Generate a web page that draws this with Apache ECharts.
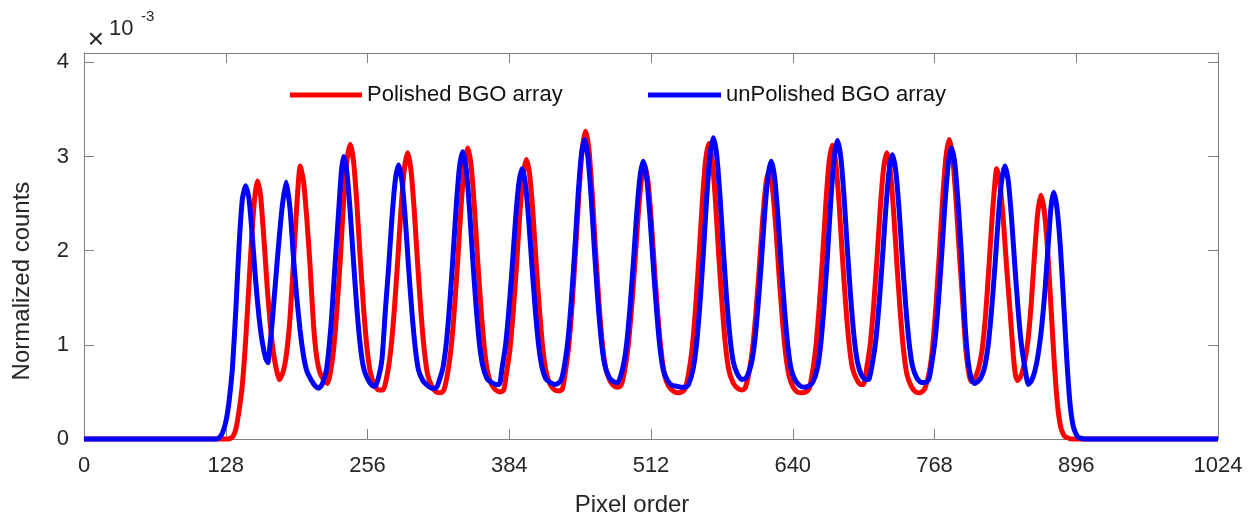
<!DOCTYPE html>
<html>
<head>
<meta charset="utf-8">
<script src="https://cdn.jsdelivr.net/npm/echarts@6/dist/echarts.min.js"></script>
<style>
  html, body { margin: 0; padding: 0; background: #fff; }
  #chart { width: 1252px; height: 521px; }
</style>
</head>
<body>
<div id="chart"></div>
<script>
// Tick labels
const xTicks = [0, 128, 256, 384, 512, 640, 768, 896, 1024];
const yTicks = [0, 1, 2, 3, 4];

// Legend / series names
const seriesNames = ['Polished BGO array', 'unPolished BGO array'];

// Polished BGO array (red): pixel order and normalized counts (x 10^-3)
const pixelsPolished = [0, 110, 130, 134, 137, 140, 143, 146, 149, 152, 154.5, 156.7, 159.5, 162.5, 165.5, 168.5, 171.5, 174.5, 176.5,
  180, 183, 186, 189, 192, 195.2, 198.2, 201.2, 204.2, 207.2, 210.2, 213.2, 217, 220,
  222.4, 225.4, 228.4, 231.4, 234.4, 237.4, 240.4, 243.4, 246.4, 249.4, 252.4, 255.4, 258.4, 262, 266, 270,
  274.2, 277.2, 280.2, 283.2, 286.2, 289.2, 292.2, 295.2, 298.2, 301.2, 304.2, 307.2, 310.2, 314, 318, 322, 325,
  328.5, 331.5, 334.5, 337.5, 340.5, 343.5, 346.5, 349.5, 352.5, 355.5, 358.5, 361.5, 364.5, 368, 372, 376, 379,
  381.5, 384.5, 387.5, 390.5, 393.5, 396.5, 399.5, 402.5, 405.5, 408.5, 411.5, 414.5, 417.5, 421, 425, 429, 432,
  434.9, 437.9, 440.9, 443.9, 446.9, 449.9, 452.9, 455.9, 458.9, 461.9, 464.9, 467.9, 470.9, 474.5, 478, 482, 485,
  488.2, 491.2, 494.2, 497.2, 500.2, 503.2, 506.2, 509.2, 512.2, 515.2, 518.2, 521.2, 524.2, 528, 532, 536, 540, 543,
  546.3, 549.3, 552.3, 555.3, 558.3, 561.3, 564.3, 567.3, 570.3, 573.3, 576.3, 579.3, 582.3, 586, 590, 594, 597,
  600.5, 603.5, 606.5, 609.5, 612.5, 615.5, 618.5, 621.5, 624.5, 627.5, 630.5, 633.5, 636.5, 640, 644, 648, 652, 655,
  657.8, 660.8, 663.8, 666.8, 669.8, 672.8, 675.8, 678.8, 681.8, 684.8, 687.8, 690.8, 693.8, 697, 701, 704,
  707, 710, 713, 716, 719, 722, 725, 728, 731, 734, 737, 740, 743, 747, 751, 755, 759,
  763.3, 766.3, 769.3, 772.3, 775.3, 778.3, 781.3, 784.3, 787.3, 790.3, 793.3, 796.3, 799.3, 801.5,
  805, 808, 811, 814, 817, 820, 822, 824.1, 827.1, 830.1, 833.1, 836.1, 839.1, 841.1, 843,
  846.1, 849.1, 852.1, 855.1, 858.1, 861.1, 864.1, 867.1, 870.1, 873.1, 876.1, 879.1, 882.1, 885.5, 892, 1024];
const countsPolished = [0, 0, 0, 0.02, 0.10, 0.30, 0.58, 1.05, 1.65, 2.25, 2.60, 2.74, 2.58, 2.12, 1.60, 1.18, 0.88, 0.70, 0.63,
  0.72, 0.92, 1.28, 1.85, 2.45, 2.90, 2.74, 2.34, 1.83, 1.22, 0.86, 0.70, 0.62, 0.59,
  0.70, 0.95, 1.38, 1.90, 2.52, 2.95, 3.13, 2.95, 2.50, 1.92, 1.40, 0.98, 0.72, 0.58, 0.52, 0.52,
  0.71, 0.97, 1.37, 1.88, 2.43, 2.86, 3.04, 2.86, 2.43, 1.87, 1.36, 0.95, 0.69, 0.56, 0.50, 0.49, 0.52,
  0.71, 0.97, 1.38, 1.90, 2.47, 2.91, 3.09, 2.91, 2.47, 1.90, 1.38, 0.97, 0.71, 0.58, 0.52, 0.50, 0.52,
  0.70, 0.94, 1.34, 1.83, 2.38, 2.80, 2.97, 2.80, 2.38, 1.83, 1.34, 0.94, 0.70, 0.58, 0.52, 0.51, 0.53,
  0.73, 1.01, 1.45, 2.00, 2.61, 3.08, 3.27, 3.08, 2.61, 2.01, 1.47, 1.03, 0.76, 0.63, 0.57, 0.55, 0.57,
  0.73, 0.97, 1.35, 1.82, 2.34, 2.74, 2.91, 2.74, 2.33, 1.80, 1.31, 0.93, 0.68, 0.56, 0.51, 0.49, 0.50, 0.54,
  0.72, 0.98, 1.40, 1.93, 2.51, 2.96, 3.14, 2.96, 2.51, 1.93, 1.41, 0.99, 0.73, 0.60, 0.54, 0.52, 0.54,
  0.71, 0.94, 1.31, 1.77, 2.28, 2.68, 2.84, 2.68, 2.28, 1.76, 1.29, 0.91, 0.68, 0.56, 0.50, 0.49, 0.50, 0.54,
  0.71, 0.97, 1.39, 1.91, 2.49, 2.94, 3.12, 2.94, 2.51, 1.94, 1.43, 1.02, 0.76, 0.65, 0.58, 0.58,
  0.77, 1.01, 1.41, 1.90, 2.45, 2.87, 3.04, 2.86, 2.43, 1.87, 1.36, 0.95, 0.69, 0.56, 0.50, 0.49, 0.53,
  0.71, 0.98, 1.41, 1.95, 2.54, 2.99, 3.18, 3.00, 2.56, 2.00, 1.48, 0.95, 0.68, 0.61,
  0.66, 0.76, 0.95, 1.30, 1.80, 2.35, 2.65, 2.87, 2.71, 2.33, 1.83, 1.38, 0.90, 0.68, 0.62,
  0.67, 0.80, 1.02, 1.40, 1.92, 2.39, 2.59, 2.42, 2.02, 1.42, 0.82, 0.36, 0.12, 0.03, 0, 0];

// unPolished BGO array (blue): pixel order and normalized counts (x 10^-3)
const pixelsUnpolished = [0, 100, 120, 124, 128, 131, 134, 137, 140, 143, 146, 149, 152, 155, 158, 161, 164, 166,
  168, 170, 173, 176, 179, 182.5, 186, 189, 192, 195, 198, 201, 205, 209, 212, 215,
  219, 223, 226, 230, 232.5, 234.5, 237.4, 240.4, 243.4, 246.4, 249.4, 252.4, 256, 260, 263,
  266.1, 269.1, 272.1, 275.1, 278.1, 281.1, 284.1, 287.1, 290.1, 293.1, 296.1, 299.1, 302.1, 306, 310, 314, 318,
  321, 324, 327, 330, 333, 336, 339, 342, 345, 348, 351, 354, 357, 360, 364, 368, 372, 375,
  377.6, 380.6, 383.6, 386.6, 389.6, 392.6, 395.6, 398.6, 401.6, 404.6, 407.6, 410.6, 413.6, 417, 421, 425, 428, 431,
  434, 437, 440, 443, 446, 449, 452, 455, 458, 461, 464, 467, 470, 474, 478, 482,
  487, 490, 493, 496, 499, 502, 505, 508, 511, 514, 517, 520, 523, 527, 531, 535, 539, 543, 546,
  550.3, 553.3, 556.3, 559.3, 562.3, 565.3, 568.3, 571.3, 574.3, 577.3, 580.3, 583.3, 586.3, 590, 594, 598,
  602.6, 605.6, 608.6, 611.6, 614.6, 617.6, 620.6, 623.6, 626.6, 629.6, 632.6, 635.6, 638.6, 642, 646, 650, 654, 658,
  662.4, 665.4, 668.4, 671.4, 674.4, 677.4, 680.4, 683.4, 686.4, 689.4, 692.4, 695.4, 698.4, 702, 706, 709,
  712, 715, 718, 721, 724, 727, 730, 733, 736, 739, 742, 745, 748, 752, 756, 760, 763,
  765.4, 768.4, 771.4, 774.4, 777.4, 780.4, 783.4, 786.4, 789.4, 792.4, 795.4, 798.4, 801.4, 804, 808, 811,
  813.6, 816.6, 819.6, 822.6, 825.6, 828.6, 831.6, 834.6, 837.6, 840.6, 843.6, 846.6, 849.6, 852.7,
  855.6, 858.6, 861.6, 864.6, 867.6, 870.6, 873.1, 875.6, 878.6, 881.6, 884.6, 887.6, 890.6, 893.6, 897.6, 905, 1024];
const countsUnpolished = [0, 0, 0, 0.04, 0.18, 0.40, 0.75, 1.35, 2.05, 2.55, 2.69, 2.55, 2.15, 1.68, 1.30, 1.03, 0.86, 0.81,
  1.00, 1.25, 1.68, 2.10, 2.47, 2.73, 2.45, 1.95, 1.52, 1.17, 0.90, 0.73, 0.63, 0.56, 0.54, 0.58,
  0.74, 1.20, 1.73, 2.43, 2.85, 3.00, 2.83, 2.41, 1.88, 1.39, 1.00, 0.76, 0.64, 0.57, 0.56,
  0.66, 0.85, 1.36, 1.83, 2.35, 2.75, 2.91, 2.74, 2.34, 1.82, 1.35, 0.97, 0.73, 0.62, 0.57, 0.54, 0.54,
  0.63, 0.75, 1.00, 1.40, 1.90, 2.45, 2.88, 3.05, 2.88, 2.46, 1.91, 1.42, 1.02, 0.78, 0.64, 0.60, 0.58, 0.58,
  0.76, 0.99, 1.36, 1.82, 2.32, 2.71, 2.87, 2.71, 2.32, 1.82, 1.36, 0.99, 0.76, 0.64, 0.60, 0.58, 0.59, 0.63,
  0.79, 1.05, 1.46, 1.98, 2.56, 3.00, 3.18, 3.00, 2.56, 1.99, 1.47, 1.06, 0.80, 0.66, 0.61, 0.60,
  0.78, 1.01, 1.39, 1.86, 2.38, 2.78, 2.95, 2.78, 2.37, 1.85, 1.37, 0.98, 0.74, 0.62, 0.57, 0.56, 0.55, 0.55, 0.58,
  0.76, 1.03, 1.45, 1.98, 2.56, 3.01, 3.20, 3.02, 2.58, 2.01, 1.49, 1.08, 0.82, 0.69, 0.63, 0.65,
  0.80, 1.03, 1.41, 1.87, 2.39, 2.79, 2.95, 2.78, 2.37, 1.85, 1.37, 0.98, 0.74, 0.63, 0.57, 0.55, 0.56, 0.60,
  0.76, 1.02, 1.44, 1.96, 2.54, 2.99, 3.17, 2.99, 2.56, 2.00, 1.49, 1.08, 0.82, 0.68, 0.63, 0.64,
  0.81, 1.05, 1.44, 1.92, 2.44, 2.85, 3.02, 2.85, 2.44, 1.90, 1.42, 1.03, 0.78, 0.65, 0.60, 0.60, 0.64,
  0.79, 1.04, 1.44, 1.94, 2.49, 2.92, 3.09, 2.92, 2.49, 1.94, 1.25, 0.82, 0.63, 0.59, 0.62, 0.68,
  0.78, 1.01, 1.38, 1.84, 2.35, 2.74, 2.90, 2.74, 2.34, 1.83, 1.36, 0.99, 0.76, 0.58,
  0.62, 0.72, 0.90, 1.17, 1.55, 2.05, 2.45, 2.62, 2.45, 2.05, 1.45, 0.82, 0.35, 0.12, 0.02, 0, 0];

const FONT = "'Liberation Sans', Arial, Helvetica, sans-serif";
const TEXT = '#262626';
const AXIS = '#808080';

const chart = echarts.init(document.getElementById('chart'), null, { renderer: 'canvas' });

const pairs = (xs, ys) => xs.map((x, i) => [x, ys[i]]);

function xAxisDef(pos, showLabel) {
  return {
    type: 'value', position: pos, min: xTicks[0], max: xTicks[xTicks.length - 1],
    interval: xTicks[1] - xTicks[0],
    axisLine: { show: true, onZero: false, lineStyle: { color: AXIS, width: 1 } },
    axisTick: { show: true, inside: true, length: 10, lineStyle: { color: AXIS, width: 1 } },
    axisLabel: {
      show: showLabel, margin: 16, fontSize: 22, fontFamily: FONT, color: TEXT,
      formatter: v => String(v)
    },
    splitLine: { show: false }
  };
}
function yAxisDef(pos, showLabel) {
  return {
    type: 'value', position: pos, min: yTicks[0], max: 4.1,
    interval: yTicks[1] - yTicks[0],
    axisLine: { show: true, onZero: false, lineStyle: { color: AXIS, width: 1 } },
    axisTick: { show: true, inside: true, length: 10, lineStyle: { color: AXIS, width: 1 } },
    axisLabel: {
      show: showLabel, margin: 15, fontSize: 22, fontFamily: FONT, color: TEXT,
      formatter: v => (yTicks.indexOf(Math.round(v * 1000) / 1000) >= 0 ? String(v) : '')
    },
    splitLine: { show: false }
  };
}

chart.setOption({
  backgroundColor: '#ffffff',
  animation: false,
  grid: { left: 84, right: 34, top: 53, bottom: 82, containLabel: false },
  xAxis: [xAxisDef('bottom', true), xAxisDef('top', false)],
  yAxis: [yAxisDef('left', true), yAxisDef('right', false)],
  legend: [
    {
      data: [seriesNames[0]], left: 285, top: 79, icon: 'rect', itemWidth: 72, itemHeight: 5,
      itemGap: 0, padding: 5, textStyle: { fontSize: 22, fontFamily: FONT, color: '#111' }
    },
    {
      data: [seriesNames[1]], left: 643, top: 79, icon: 'rect', itemWidth: 73, itemHeight: 5,
      itemGap: 0, padding: 5, textStyle: { fontSize: 22, fontFamily: FONT, color: '#111' }
    }
  ],
  graphic: [
    { type: 'text', x: 96, y: 40, style: { text: '×', fontSize: 28, fontFamily: FONT, fill: TEXT, align: 'center', verticalAlign: 'middle' } },
    { type: 'text', x: 109, y: 29, style: { text: '10', fontSize: 22, fontFamily: FONT, fill: TEXT, align: 'left', verticalAlign: 'middle' } },
    { type: 'text', x: 141, y: 17, style: { text: '-3', fontSize: 15, fontFamily: FONT, fill: TEXT, align: 'left', verticalAlign: 'middle' } },
    { type: 'text', x: 632, y: 505, style: { text: 'Pixel order', fontSize: 24, fontFamily: FONT, fill: TEXT, align: 'center', verticalAlign: 'middle' } },
    { type: 'text', x: 22, y: 281, rotation: Math.PI / 2, style: { text: 'Normalized counts', fontSize: 24, fontFamily: FONT, fill: TEXT, align: 'center', verticalAlign: 'middle' } }
  ],
  series: [
    {
      name: seriesNames[0], type: 'line', xAxisIndex: 0, yAxisIndex: 0,
      data: pairs(pixelsPolished, countsPolished),
      showSymbol: false, symbol: 'none', smooth: 0.2, clip: false,
      lineStyle: { color: '#ff0000', width: 5 }, itemStyle: { color: '#ff0000' }, z: 2
    },
    {
      name: seriesNames[1], type: 'line', xAxisIndex: 0, yAxisIndex: 0,
      data: pairs(pixelsUnpolished, countsUnpolished),
      showSymbol: false, symbol: 'none', smooth: 0.2, clip: false,
      lineStyle: { color: '#0000ff', width: 5 }, itemStyle: { color: '#0000ff' }, z: 3
    }
  ]
});
</script>
</body>
</html>
